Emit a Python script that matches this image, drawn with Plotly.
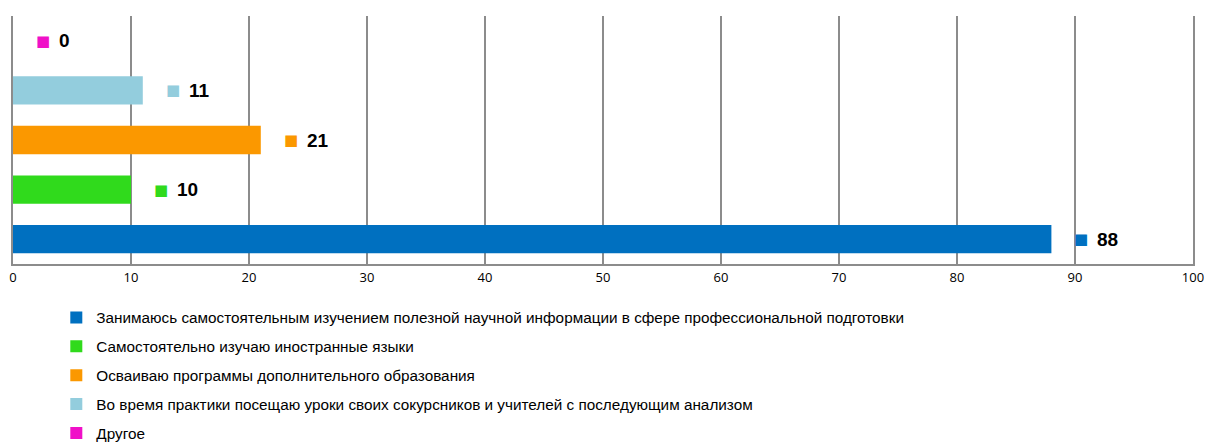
import plotly.graph_objects as go

# Данные
categories = [
    "Занимаюсь самостоятельным изучением полезной научной информации в сфере профессиональной подготовки",
    "Самостоятельно изучаю иностранные языки",
    "Осваиваю программы дополнительного образования",
    "Во время практики посещаю уроки своих сокурсников и учителей с последующим анализом",
    "Другое",
]
values = [88, 10, 21, 11, 0]
colors = ["#0070C0", "#30DA1C", "#FB9800", "#93CDDD", "#F010C8"]
x_ticks = [0, 10, 20, 30, 40, 50, 60, 70, 80, 90, 100]

label_font = "Liberation Sans Narrow, Arial Narrow, Liberation Sans, Arial, sans-serif"

fig = go.Figure()

for i, (name, val, col) in enumerate(zip(categories, values, colors)):
    fig.add_trace(go.Bar(
        y=[name], x=[val],
        orientation='h',
        name=name,
        legendgroup=f"g{i}",
        marker=dict(color=col, line=dict(width=0)),
        width=0.57,
        hoverinfo='x+name',
    ))
    # подпись: цветной квадрат + число
    fig.add_annotation(
        x=val, y=name, xref='x', yref='y',
        text="■", showarrow=False,
        xanchor='center', xshift=30,
        font=dict(color=col, size=15, family="DejaVu Sans"),
    )
    fig.add_annotation(
        x=val, y=name, xref='x', yref='y',
        text=f"<b>{val}</b>", showarrow=False,
        xanchor='left', xshift=44,
        font=dict(color="#000000", size=19, family=label_font),
    )

fig.update_layout(
    width=1208, height=443,
    barmode='overlay',
    paper_bgcolor="white",
    plot_bgcolor="white",
    margin=dict(l=13, r=15, t=16, b=179, autoexpand=False),
    showlegend=True,
    legend=dict(
        orientation='v',
        x=0.0367, xanchor='left',
        y=-0.149, yanchor='top',
        traceorder='grouped',
        tracegroupgap=6,
        font=dict(size=15.3, family=label_font, color="#000000"),
        itemwidth=30,
    ),
    xaxis=dict(
        range=[0, 100],
        tickvals=x_ticks,
        showgrid=True, gridcolor="#8C8C8C", gridwidth=2,
        showline=True, linecolor="#8C8C8C", linewidth=2,
        zeroline=False,
        ticks='', ticklen=0,
        tickfont=dict(size=13, family="Open Sans, Arial, sans-serif", color="#000000"),
        automargin=False,
        fixedrange=True,
    ),
    yaxis=dict(
        type='category',
        categoryorder='array', categoryarray=categories,
        showticklabels=False,
        showgrid=False, zeroline=False,
        showline=True, mirror=True, linecolor="#8C8C8C", linewidth=2,
        automargin=False,
        fixedrange=True,
    ),
)

# убрать стандартный отступ body, чтобы фигура заняла всё окно
fig.write_html(
    "out.html",
    config={'displayModeBar': False},
    post_script="document.body.style.margin='0';document.body.style.overflow='hidden';",
)
